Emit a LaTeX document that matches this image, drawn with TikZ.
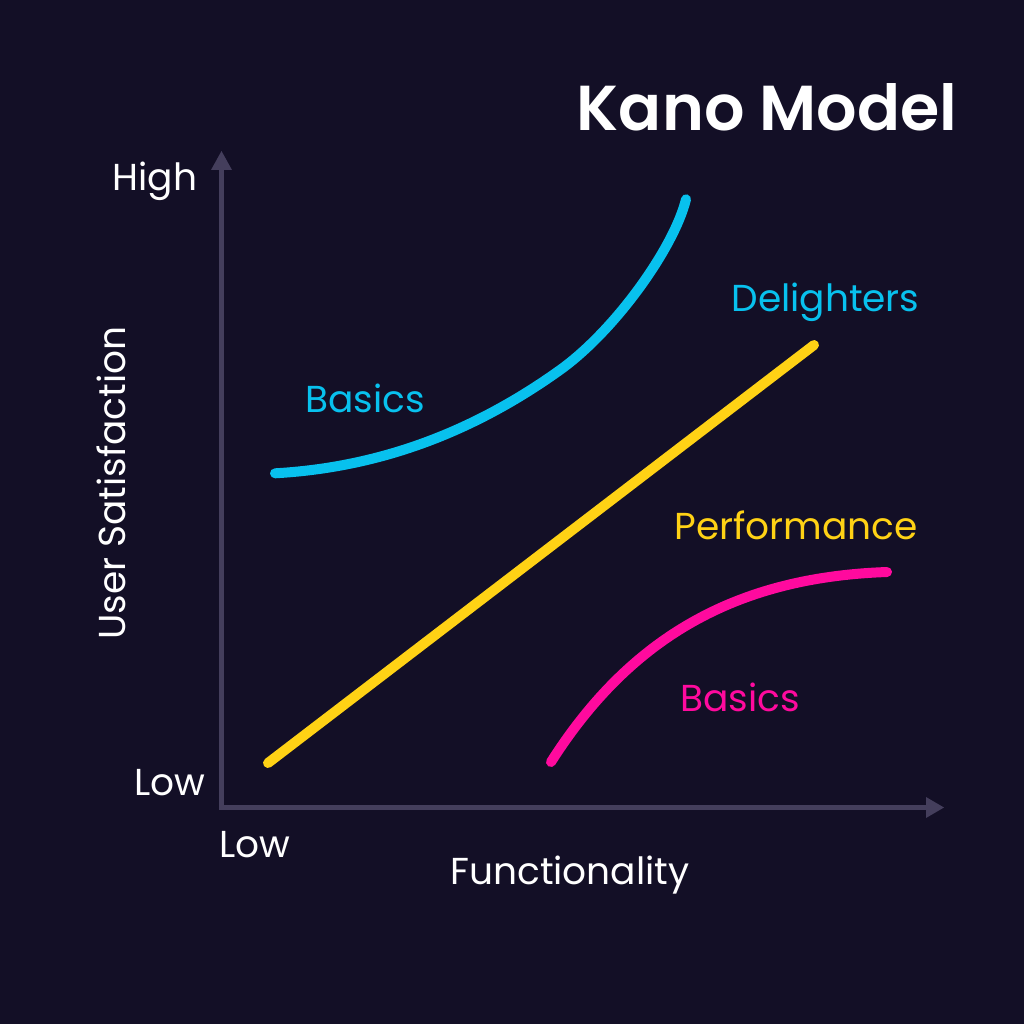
\documentclass[tikz,border=0pt]{standalone}
\usepackage{fontspec}
\setmainfont{Poppins}[BoldFont=* SemiBold]
\definecolor{bg}{HTML}{130F26}
\definecolor{axisc}{HTML}{443E5C}
\definecolor{cy}{HTML}{08C1EE}
\definecolor{ye}{HTML}{FFD215}
\definecolor{pk}{HTML}{FF0A9E}
\tikzset{
 x=1pt,y=-1pt,
 axisline/.style={draw=axisc,line width=5pt},
 curve/.style={line width=10pt,line cap=round},
 lab/.style={font=\fontsize{37.5}{40}\selectfont,inner sep=0pt,anchor=center},
 axlab/.style={lab,text=white}
}
\begin{document}
\begin{tikzpicture}
\path[fill=bg] (0,0) rectangle (1024,1024);
\useasboundingbox (0,0) rectangle (1024,1024);
\coordinate (o) at (221.5,807.5);
\coordinate (ty) at (221.5,151);
\coordinate (tx) at (944,807.5);
\draw[axisline] (221.5,170) -- (o) -- (926,807.5);
\fill[axisc] (ty) -- (232,170) -- (211,170) -- cycle;
\fill[axisc] (tx) -- (926,797) -- (926,818) -- cycle;
\draw[curve,draw=cy] (275,473.3) .. controls (370,468) and (465,438) .. (560,370) .. controls (615,330.6) and (674,248) .. (686,199.3);
\draw[curve,draw=ye] (268,763) -- (814,345);
\draw[curve,draw=pk] (551,762) .. controls (635,630) and (745,577) .. (887,572);
\node[font=\fontsize{63.5}{68}\selectfont\bfseries,text=white,inner sep=0pt] (title) at (767,107) {Kano Model};
\node[axlab] (high) at (155,181) {High};
\node[axlab] (lowy) at (170,783) {Low};
\node[axlab] (lowx) at (255,845) {Low};
\node[axlab] (func) at (570,875) {Functionality};
\node[axlab,rotate=90] (sat) at (111,483) {User Satisfaction};
\node[lab,text=cy] (b1) at (365,398) {Basics};
\node[lab,text=cy] (del) at (825.5,302) {Delighters};
\node[lab,text=ye] (perf) at (796,525) {Performance};
\node[lab,text=pk] (b2) at (740,697) {Basics};
\end{tikzpicture}
\end{document}
